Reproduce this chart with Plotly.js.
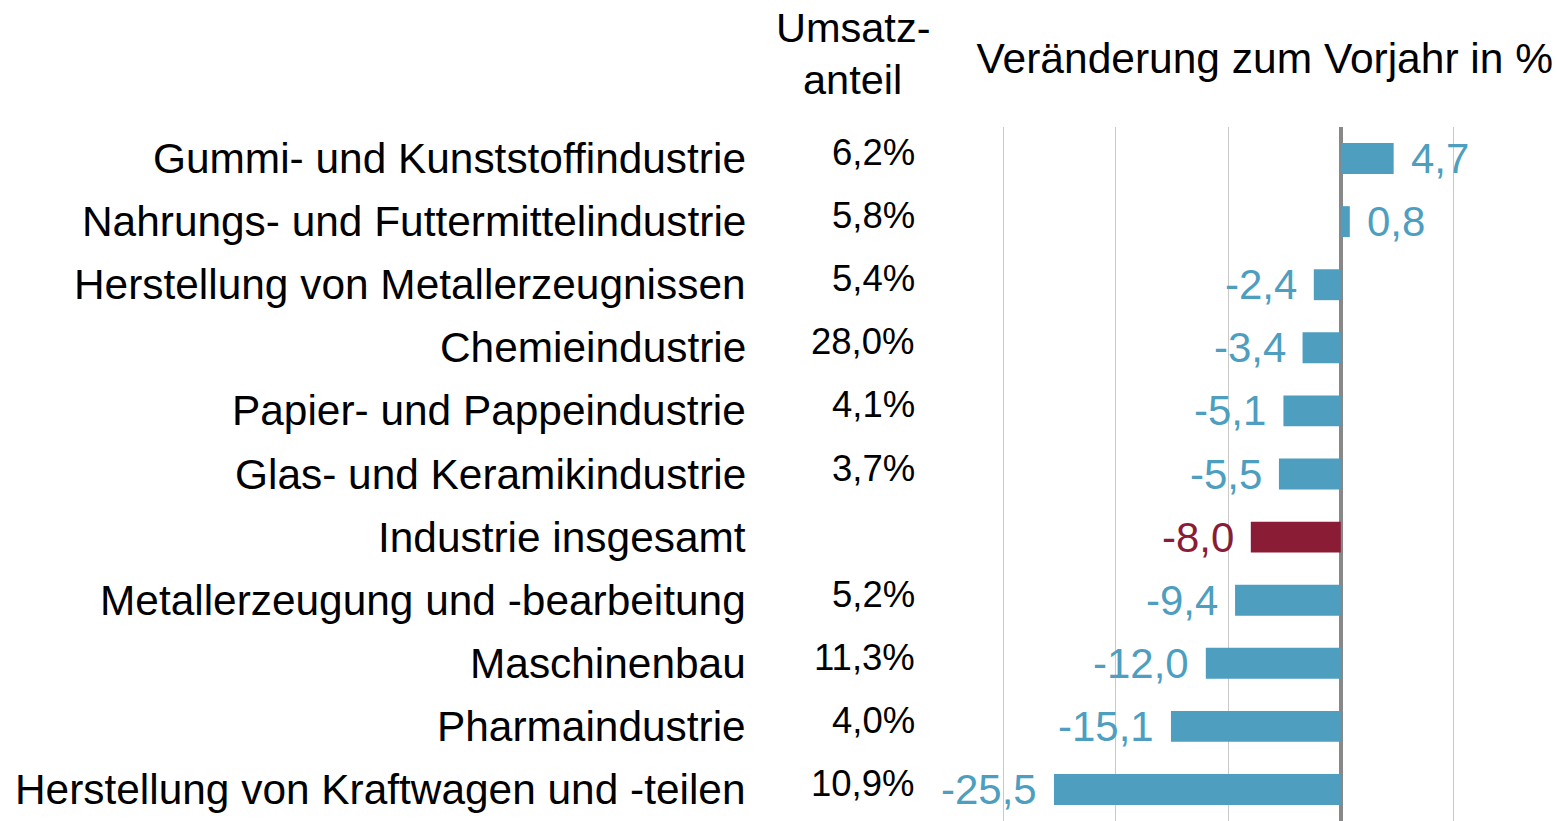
<!DOCTYPE html>
<html>
<head>
<meta charset="utf-8">
<script src="https://cdn.plot.ly/plotly-3.0.1.min.js"></script>
<style>
  html, body { margin: 0; padding: 0; background: #ffffff; }
  #chart { width: 1557px; height: 821px; }
</style>
</head>
<body>
<div id="chart"></div>
<script>
// ---- data ----
const categories = [
  "Gummi- und Kunststoffindustrie",
  "Nahrungs- und Futtermittelindustrie",
  "Herstellung von Metallerzeugnissen",
  "Chemieindustrie",
  "Papier- und Pappeindustrie",
  "Glas- und Keramikindustrie",
  "Industrie insgesamt",
  "Metallerzeugung und -bearbeitung",
  "Maschinenbau",
  "Pharmaindustrie",
  "Herstellung von Kraftwagen und -teilen"
];
const changes = [4.7, 0.8, -2.4, -3.4, -5.1, -5.5, -8.0, -9.4, -12.0, -15.1, -25.5];
const shares = ["6,2%", "5,8%", "5,4%", "28,0%", "4,1%", "3,7%", "", "5,2%", "11,3%", "4,0%", "10,9%"];
const highlight = "Industrie insgesamt";

const shareHeaderLines = ["Umsatz-", "anteil"];
const chartTitle = "Veränderung zum Vorjahr in %";

// ---- styling ----
const BLUE = "#4E9EC0";
const RED = "#8A1D35";
const FONT = "Liberation Sans, Arial, sans-serif";

const colors = categories.map(c => c === highlight ? RED : BLUE);
const fmt = v => v.toFixed(1).replace(".", ",");

const trace = {
  type: "bar",
  orientation: "h",
  x: changes,
  y: categories,
  width: 0.49,
  marker: { color: colors, line: { width: 0 } },
  hoverinfo: "skip"
};

const annotations = [];
// value labels
changes.forEach((v, i) => {
  annotations.push({
    x: v, y: categories[i], xref: "x", yref: "y",
    text: fmt(v), showarrow: false,
    xanchor: v >= 0 ? "left" : "right",
    xshift: v >= 0 ? 15 : -15,
    yanchor: "middle",
    font: { family: FONT, size: 42, color: colors[i] }
  });
});
// category labels
categories.forEach((c, i) => {
  annotations.push({
    x: 0, y: c, xref: "paper", yref: "y",
    text: c, showarrow: false,
    xanchor: "right", xshift: -182, yanchor: "middle",
    font: { family: FONT, size: 42.4, color: "#000000" }
  });
});
// share column
shares.forEach((s, i) => {
  if (!s) return;
  annotations.push({
    x: 0, y: categories[i], xref: "paper", yref: "y",
    text: s, showarrow: false,
    xanchor: "right", xshift: -13, yanchor: "middle", yshift: 6,
    font: { family: FONT, size: 36.5, color: "#000000" }
  });
});
// share header (two lines)
const headerShifts = [100, 48];
shareHeaderLines.forEach((t, i) => {
  annotations.push({
    x: 0, y: 1, xref: "paper", yref: "paper",
    text: t, showarrow: false,
    xanchor: "center", xshift: -77.5, yanchor: "middle", yshift: headerShifts[i],
    font: { family: FONT, size: 41.5, color: "#000000" }
  });
});

const layout = {
  width: 1557,
  height: 821,
  margin: { l: 930, r: 0, t: 127, b: 0, pad: 0 },
  paper_bgcolor: "#ffffff",
  plot_bgcolor: "#ffffff",
  showlegend: false,
  bargap: 0.51,
  title: {
    text: chartTitle,
    xref: "paper", x: 0.534, xanchor: "center",
    yref: "container", y: 1 - 58 / 821, yanchor: "middle",
    font: { family: FONT, size: 42.5, color: "#000000" }
  },
  xaxis: {
    range: [-36.52, 19.22],
    tick0: 0, dtick: 10,
    showgrid: true, gridcolor: "#C9C9C9", gridwidth: 1,
    zeroline: true, zerolinecolor: "#888888", zerolinewidth: 4,
    showticklabels: false, ticks: "", showline: false,
    fixedrange: true
  },
  yaxis: {
    type: "category",
    autorange: "reversed",
    showticklabels: false, ticks: "", showgrid: false,
    zeroline: false, showline: false,
    fixedrange: true
  },
  annotations: annotations
};

Plotly.newPlot("chart", [trace], layout, { staticPlot: true, displayModeBar: false });
</script>
</body>
</html>
